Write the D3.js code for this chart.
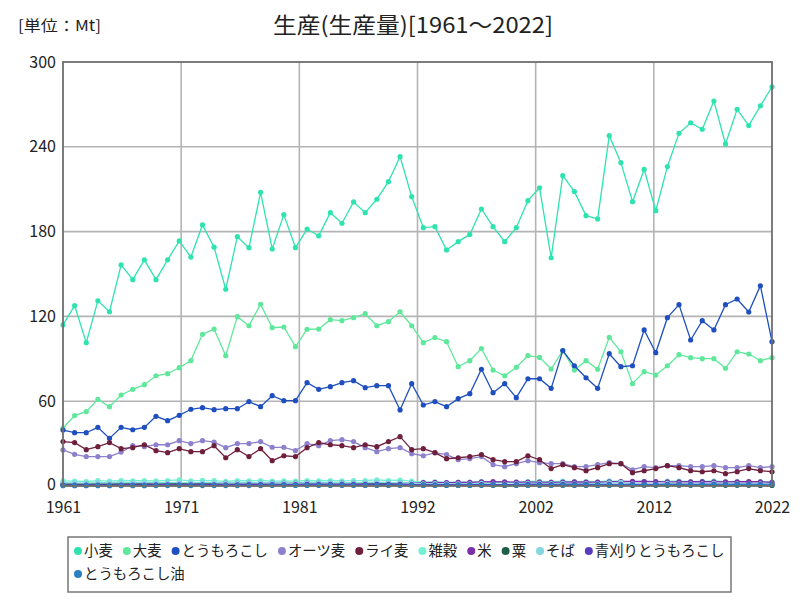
<!DOCTYPE html>
<html><head><meta charset="utf-8">
<script src="https://cdn.jsdelivr.net/npm/d3@7"></script>
<style>
body{margin:0;background:#fff;}
text{font-family:"Noto Sans CJK JP","Noto Sans",sans-serif;}
</style></head>
<body><svg id="c" width="800" height="600"></svg>
<script>
const startYear = 1961, endYear = 2022;
const years = d3.range(startYear, endYear + 1);
const yTicks = [0, 60, 120, 180, 240, 300];
const xTickLabels = ["1961","1971","1981","1992","2002","2012","2022"];

const wheat = [114,127.6,101.4,131,123.3,156.4,146,160,146,160,
 173.4,162,184.7,169,139.2,176.4,168.6,207.8,167.7,192,
 168.6,181.8,177,193.4,185.9,201,193.4,202.9,215.3,233,
 204.7,182.8,183.5,167,172.9,178,196,183.5,172.9,182.8,
 201.9,211,161.5,219.6,208.3,191.3,189,247.9,228.8,201.2,
 224,194.8,226,249.5,257,252.4,272.4,242,266.5,255,
 269,282.5];
const barley = [41,49.8,52.6,61.3,56.1,64.4,68.4,71.7,78,79.5,
 83.7,88.7,107.3,111,92.2,119.8,113.4,128.6,112,112.5,
 98.6,110.9,111,117.7,117,119.1,121.9,113.4,116.3,123.3,
 113.4,101.4,105,102.1,84.4,88.7,97.2,82,78,84,
 92.2,91,82.8,95.8,82,88.7,82.6,105.2,95,72.4,
 80.9,78.5,85.1,92.9,90.8,90.1,90.1,83.3,95,93.4,
 88.7,90.8];
const maize = [39.6,37.7,37.7,41.5,33.7,41.5,39.8,41.5,49.3,46.2,
 50,54.3,55.4,54,54.7,54.7,59.7,56.1,63.9,60.4,
 60.4,73.1,68.4,70.3,73.1,74.5,69.6,71,71,53.8,
 72.4,57.3,59.7,56.1,61.8,65.3,82.6,66,72.4,62.5,
 75.9,75.9,69.1,95.8,85.1,76.6,69.1,93.6,84.4,85.1,
 110.4,94.3,119.1,128.3,103.3,117,110.4,128.3,132.3,123.1,
 141.7,102.1];
const oats = [25.5,22.4,20.8,20.8,20.8,24,28.5,27.8,29.2,29.2,
 32.1,30,32.1,31,27.1,30,30,31.4,27.4,27.4,
 25,30,28.5,32.1,32.8,31.4,27.1,24.3,26.4,27.1,
 22.9,21.4,23.6,22.2,18.6,19.3,20.8,15.1,13.7,15.8,
 17.9,16.5,15.8,15.8,13.7,13.7,15.1,16.5,15.8,11.5,
 13.7,13,14.4,14.4,13.7,13.7,14.4,13,13,14.4,
 13,13.7];
const rye = [31.4,30.7,25.7,27.8,30.7,26.4,27.1,29.2,25,23.6,
 26.4,24.3,24.3,28.5,20,25.7,20.8,26.4,17.9,21.4,
 20.8,27.1,30.7,29.2,28.5,27.1,29.2,27.8,31.4,34.9,
 25.7,26.4,23.6,19.3,20,20.8,22.2,18.6,17.2,17.2,
 21.4,18.6,12.3,15.1,13,10.8,13,15.8,15.8,9.4,
 10.8,12.3,14.4,13,10.8,10.1,10.8,8.7,10.1,12.3,
 10.8,10.1];
const miscGrains = [3.6,3.4,3.2,3.8,3.5,3.9,3.7,3.8,3.6,3.9,
 4.3,3.6,4.0,3.8,3.3,3.9,3.7,3.9,3.4,3.6,
 3.5,3.9,3.7,3.9,3.6,3.8,3.9,4.4,3.9,4.1,
 3.4,2.8,2.9,2.6,2.8,2.7,3.1,2.6,2.5,2.7,
 3.2,3.3,3.0,3.4,3.1,3.2,3.0,3.6,3.2,2.9,
 3.3,3.0,3.4,3.5,3.2,3.3,3.6,3.1,3.2,3.0,
 3.1,3.0];
const rice = [1.3,1.4,1.4,1.5,1.5,1.5,1.6,1.6,1.7,1.7,
 1.8,1.8,1.9,1.9,2.0,2.0,2.0,2.1,2.1,2.0,
 2.1,2.2,2.1,2.2,2.3,2.2,2.3,2.4,2.3,2.2,
 2.0,2.4,2.5,2.4,2.5,2.6,2.9,3.1,2.9,2.8,
 2.7,2.8,2.6,2.8,2.9,2.8,2.7,2.9,3.2,3.3,
 3.2,3.1,2.9,2.9,3.0,3.1,3.0,2.9,3.0,3.1,
 3.0,2.6];
const millet = [1.4,1.3,1.5,1.4,1.2,1.4,1.3,1.2,1.3,1.4,
 1.6,1.2,1.4,1.3,1.1,1.3,1.2,1.2,1.1,1.2,
 1.0,1.1,1.2,1.1,1.2,1.2,1.3,1.5,1.4,1.2,
 0.9,0.6,0.7,0.6,0.5,0.5,0.6,0.5,0.4,0.5,
 0.6,0.6,0.5,0.6,0.5,0.5,0.4,0.6,0.5,0.4,
 0.6,0.5,0.5,0.6,0.5,0.5,0.6,0.5,0.5,0.5,
 0.4,0.4];
const buckwheat = [2.3,2.2,2.1,2.4,2.3,2.5,2.4,2.5,2.3,2.4,
 2.6,2.2,2.5,2.4,2.0,2.3,2.2,2.4,2.1,2.2,
 2.1,2.3,2.2,2.4,2.3,2.4,2.5,2.8,2.5,2.4,
 2.1,1.6,1.7,1.5,1.6,1.5,1.8,1.4,1.3,1.5,
 1.8,1.9,1.7,1.9,1.6,1.7,1.5,2.2,2.5,1.5,
 1.2,1.3,1.8,1.6,1.5,1.6,1.9,1.4,1.6,1.4,
 1.5,1.4];
const greenMaize = [0.6,0.6,0.6,0.7,0.6,0.7,0.7,0.7,0.8,0.8,
 0.8,0.8,0.9,0.9,0.9,0.9,1.0,1.0,1.0,1.0,
 1.0,1.1,1.1,1.1,1.1,1.2,1.2,1.2,1.2,1.2,
 1.0,0.9,0.9,0.9,0.9,1.0,1.0,1.0,1.0,1.0,
 1.1,1.1,1.0,1.1,1.1,1.1,1.0,1.1,1.1,1.1,
 1.1,1.1,1.2,1.2,1.2,1.2,1.2,1.2,1.2,1.2,
 1.2,1.1];
const maizeOil = [0.2,0.2,0.2,0.2,0.2,0.2,0.2,0.2,0.3,0.3,
 0.3,0.3,0.3,0.3,0.3,0.3,0.3,0.3,0.4,0.4,
 0.4,0.4,0.4,0.4,0.4,0.4,0.4,0.4,0.4,0.4,
 0.4,0.4,0.4,0.4,0.4,0.4,0.5,0.5,0.5,0.5,
 0.5,0.5,0.5,0.6,0.6,0.6,0.6,0.6,0.6,0.7,
 0.7,0.7,0.8,0.8,0.8,0.8,0.8,0.9,0.9,0.9,
 0.9,0.9];

const seriesNames = ["小麦","大麦","とうもろこし","オーツ麦","ライ麦","雑穀","米","粟","そば","青刈りとうもろこし","とうもろこし油"];
const seriesValues = [wheat,barley,maize,oats,rye,miscGrains,rice,millet,buckwheat,greenMaize,maizeOil];
const seriesColors = ["#2fe3b0","#5fe89c","#1f4fbf","#8d80cc","#6e1f3c","#74f0d2","#7a30a8","#1f5f48","#84d6df","#5a3cc0","#2a80c0"];

const svg = d3.select("#c");
const L = 63, R = 772, T = 62, B = 486;
const x = d3.scaleLinear().domain([startYear, endYear]).range([L, R]);
const y = d3.scaleLinear().domain([0, 300]).range([B, T]);

// title
svg.append("text").attr("x", 413).attr("y", 33).attr("text-anchor","middle")
  .attr("font-size", 22).attr("fill","#222")
  .attr("textLength", 280).attr("lengthAdjust","spacingAndGlyphs")
  .text("生産(生産量)[1961～2022]");
svg.append("text").attr("x", 18).attr("y", 31).attr("font-size", 15).attr("fill","#222")
  .attr("textLength", 83).attr("lengthAdjust","spacingAndGlyphs")
  .text("[単位：Mt]");

// grid
const xTickVals = d3.range(7).map(i => startYear + i * (endYear - startYear) / 6);
const g = svg.append("g");
g.selectAll(".gx").data(xTickVals.slice(1, -1)).join("line")
  .attr("x1", d => x(d)).attr("x2", d => x(d)).attr("y1", T).attr("y2", B)
  .attr("stroke","#b4b4b4").attr("stroke-width",1.6);
g.selectAll(".gy").data(yTicks.slice(1, -1)).join("line")
  .attr("x1", L).attr("x2", R).attr("y1", d => y(d)).attr("y2", d => y(d))
  .attr("stroke","#b4b4b4").attr("stroke-width",1.6);

// axes labels via d3 axes
const yAxis = d3.axisLeft(y).tickValues(yTicks).tickSize(0).tickPadding(7);
const ya = svg.append("g").attr("transform", `translate(${L},0)`).call(yAxis);
ya.select(".domain").remove();
ya.selectAll("text").attr("font-size", 16).attr("fill","#222")
  .style("font-family","'Liberation Sans Narrow','Noto Sans CJK JP',sans-serif");
ya.selectAll(".tick").filter(d => d === 0).select("text").attr("dy", "0.2em");

const xAxis = d3.axisBottom(x).tickValues(xTickVals).tickSize(0).tickPadding(16)
  .tickFormat((d, i) => xTickLabels[i]);
const xa = svg.append("g").attr("transform", `translate(0,${B})`).call(xAxis);
xa.select(".domain").remove();
xa.selectAll("text").attr("font-size", 16).attr("fill","#222")
  .style("font-family","'Liberation Sans Narrow','Noto Sans CJK JP',sans-serif");

// series
const line = d3.line().x((d, i) => x(years[i])).y(d => y(d));
const sg = svg.append("g");
seriesValues.forEach((vals, si) => {
  sg.append("path").datum(vals).attr("d", line).attr("fill","none")
    .attr("stroke", seriesColors[si]).attr("stroke-width", 1.3);
  sg.selectAll(".p" + si).data(vals).join("circle")
    .attr("cx", (d, i) => x(years[i])).attr("cy", d => y(d)).attr("r", 2.6)
    .attr("fill", seriesColors[si]);
});

// frame
svg.append("rect").attr("x", L).attr("y", T).attr("width", R - L).attr("height", B - T)
  .attr("fill","none").attr("stroke","#6e6e6e").attr("stroke-width",1.8);

// legend
const lg = svg.append("g");
const boxL = 68, boxR = 731, boxT = 537, boxB = 592;
lg.append("rect").attr("x", boxL).attr("y", boxT).attr("width", boxR - boxL).attr("height", boxB - boxT)
  .attr("fill","#fff").attr("stroke","#777").attr("stroke-width",1.5);
let cx = 78, cy = 551;
seriesNames.forEach((name, i) => {
  const t = lg.append("text").attr("font-size", 14.4).attr("fill","#222").text(name);
  const w = t.node().getComputedTextLength();
  if (cx + 6 + w > boxR - 4) { cx = 78; cy += 23; }
  lg.append("circle").attr("cx", cx).attr("cy", cy).attr("r", 4).attr("fill", seriesColors[i]);
  t.attr("x", cx + 6).attr("y", cy + 5);
  cx += 6 + w + 14;
});
</script></body></html>
